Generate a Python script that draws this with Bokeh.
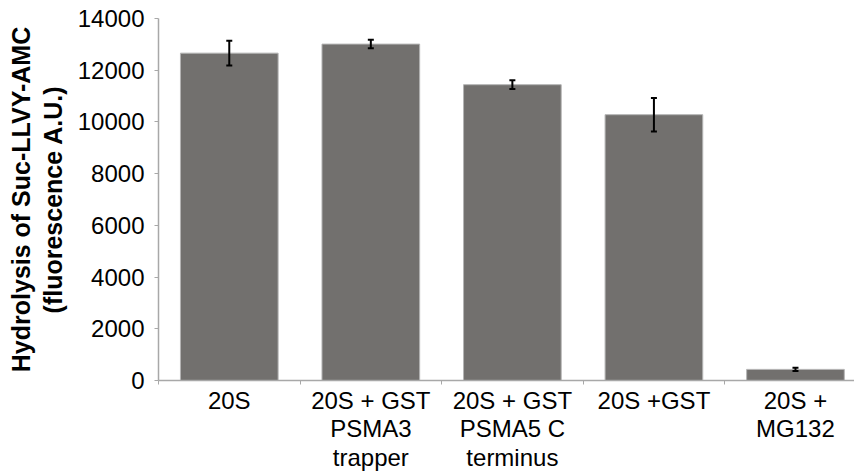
from bokeh.plotting import figure
from bokeh.models import (ColumnDataSource, Range1d, FixedTicker, Whisker, TeeHead)
from bokeh.embed import file_html
from bokeh.resources import INLINE

categories = ["20S", "20S + GST\nPSMA3\ntrapper", "20S + GST\nPSMA5 C\nterminus",
              "20S +GST", "20S +\nMG132"]
values = [12660, 13010, 11440, 10280, 430]
errors = [480, 165, 170, 650, 60]
y_ticks = [0, 2000, 4000, 6000, 8000, 10000, 12000, 14000]

xs = list(range(len(categories)))
src = ColumnDataSource(dict(
    x=xs, top=values,
    upper=[v + e for v, e in zip(values, errors)],
    lower=[v - e for v, e in zip(values, errors)],
))

FONT = "Liberation Sans"

p = figure(width=854, height=474, output_backend="svg", toolbar_location=None,
           x_range=Range1d(-0.5, 4.417), y_range=Range1d(0, 14000),
           min_border_left=158, min_border_right=0, min_border_top=18,
           min_border_bottom=94)
p.outline_line_color = None
p.xgrid.visible = False
p.ygrid.visible = False
p.background_fill_color = "white"

p.vbar(x="x", top="top", width=0.69, bottom=0, source=src,
       fill_color="#72706e", line_color="#b4b4b4", line_width=1)

w = Whisker(base="x", upper="upper", lower="lower", source=src,
            line_color="black", line_width=2, level="overlay",
            upper_head=TeeHead(size=6, line_color="black", line_width=2),
            lower_head=TeeHead(size=6, line_color="black", line_width=2))
p.add_layout(w)

# x axis
p.xaxis.ticker = FixedTicker(ticks=xs, minor_ticks=[-0.5, 0.5, 1.5, 2.5, 3.5, 4.5])
p.xaxis.major_label_overrides = {i: c for i, c in enumerate(categories)}
p.xaxis.major_tick_line_color = None
p.xaxis.major_tick_in = 0
p.xaxis.major_tick_out = 0
p.xaxis.minor_tick_in = 0
p.xaxis.minor_tick_out = 4
p.xaxis.minor_tick_line_color = "#a8a8a8"
p.xaxis.axis_line_color = "#a8a8a8"
p.xaxis.axis_line_width = 1.5
p.xaxis.major_label_text_font = FONT
p.xaxis.major_label_text_font_size = "24px"
p.xaxis.major_label_text_line_height = 1.06
p.xaxis.major_label_text_color = "black"
p.xaxis.major_label_standoff = 2

# y axis
p.yaxis.ticker = FixedTicker(ticks=y_ticks, minor_ticks=[])
p.yaxis.axis_line_color = "#a8a8a8"
p.yaxis.axis_line_width = 1.5
p.yaxis.major_tick_line_color = "#a8a8a8"
p.yaxis.major_tick_in = 0
p.yaxis.major_tick_out = 4
p.yaxis.major_label_text_font = FONT
p.yaxis.major_label_text_font_size = "24px"
p.yaxis.major_label_text_color = "black"
p.yaxis.major_label_standoff = 10
p.yaxis.axis_label = "Hydrolysis of Suc-LLVY-AMC\n(fluorescence A.U.)"
p.yaxis.axis_label_text_font = FONT
p.yaxis.axis_label_text_font_style = "bold"
p.yaxis.axis_label_text_font_size = "25px"
p.yaxis.axis_label_text_line_height = 1.15
p.yaxis.axis_label_text_color = "black"
p.yaxis.axis_label_standoff = 8

open("out.html", "w").write(file_html(p, INLINE))
